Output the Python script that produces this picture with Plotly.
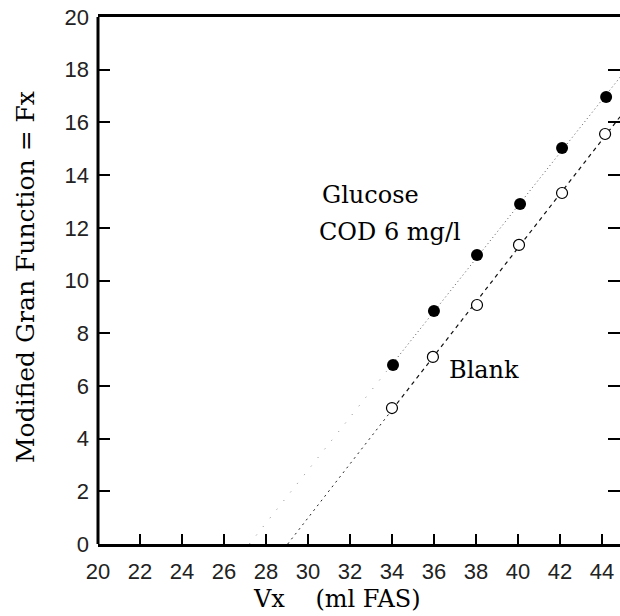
import numpy as np
import plotly.graph_objects as go

# ---- data ----
vx_glucose = [34.05, 36.0, 38.05, 40.1, 42.1, 44.2]
fx_glucose = [6.79, 8.84, 10.97, 12.9, 15.03, 16.96]
vx_blank = [34.0, 35.95, 38.05, 40.05, 42.1, 44.15]
fx_blank = [5.16, 7.10, 9.07, 11.35, 13.32, 15.56]

x_ticks = list(range(20, 45, 2))
y_ticks = list(range(0, 21, 2))

X_MAX = 44.86

# regression lines from the data
def fit_segments(xs, ys):
    m, b = np.polyfit(xs, ys, 1)
    x0 = -b / m  # x-intercept
    xa = min(xs)
    low = ([x0, xa], [0.0, m * xa + b])
    high = ([xa, X_MAX], [m * xa + b, m * X_MAX + b])
    return low, high

g_low, g_high = fit_segments(vx_glucose, fx_glucose)
b_low, b_high = fit_segments(vx_blank, fx_blank)

fig = go.Figure()

# Glucose line (sparse dotted)
fig.add_trace(go.Scatter(x=g_low[0], y=g_low[1], mode="lines",
                         line=dict(color="#888", width=1, dash="1px,10px"),
                         hoverinfo="skip", showlegend=False))
fig.add_trace(go.Scatter(x=g_high[0], y=g_high[1], mode="lines",
                         line=dict(color="#555", width=1, dash="1px,3px"),
                         hoverinfo="skip", showlegend=False))
# Blank line
fig.add_trace(go.Scatter(x=b_low[0], y=b_low[1], mode="lines",
                         line=dict(color="#222", width=1, dash="2px,4px"),
                         hoverinfo="skip", showlegend=False))
fig.add_trace(go.Scatter(x=b_high[0], y=b_high[1], mode="lines",
                         line=dict(color="#111", width=1.2, dash="4px,4px"),
                         hoverinfo="skip", showlegend=False))

# points
fig.add_trace(go.Scatter(x=vx_glucose, y=fx_glucose, mode="markers", name="Glucose",
                         marker=dict(symbol="circle", size=12, color="black"),
                         showlegend=False))
fig.add_trace(go.Scatter(x=vx_blank, y=fx_blank, mode="markers", name="Blank",
                         marker=dict(symbol="circle", size=11, color="white",
                                     line=dict(color="black", width=1.2)),
                         showlegend=False))

serif = "DejaVu Serif"
ann_font = dict(family=serif, size=24, color="black")

fig.add_annotation(x=30.57, y=13.24, text="Glucose", showarrow=False,
                   xanchor="left", yanchor="middle", font=ann_font)
fig.add_annotation(x=30.43, y=11.84, text="COD 6 mg/l", showarrow=False,
                   xanchor="left", yanchor="middle", font=ann_font)
fig.add_annotation(x=36.62, y=6.6, text="Blank", showarrow=False,
                   xanchor="left", yanchor="middle", font=ann_font)

L, R, T, B = 98, 0, 17, 72
W, H = 620, 616
pw = W - L - R
ph = H - T - B

# x-axis title (centred at pixel 337, 599)
fig.add_annotation(x=(337 - L) / pw, y=(H - B - 599) / ph, xref="paper", yref="paper",
                   text="Vx    (ml FAS)", showarrow=False, font=ann_font,
                   xanchor="center", yanchor="middle")
# y-axis title (centred at pixel 25, 277)
fig.add_annotation(x=(25 - L) / pw, y=(H - B - 277) / ph, xref="paper", yref="paper",
                   text="Modified Gran Function = Fx", showarrow=False, textangle=-90,
                   font=dict(family=serif, size=25, color="black"),
                   xanchor="center", yanchor="middle")

# left axis line
fig.add_shape(type="line", xref="paper", yref="paper", x0=0, x1=0, y0=0, y1=1,
              line=dict(color="black", width=3))

tick_font = dict(family="Liberation Sans", size=22, color="#222")

fig.update_xaxes(range=[20, X_MAX], tickvals=x_ticks, ticktext=[str(v) for v in x_ticks],
                 showline=True, linecolor="black", linewidth=3, mirror=True,
                 ticks="inside", ticklen=10, tickwidth=1.5, tickcolor="black",
                 showgrid=False, zeroline=False, tickfont=tick_font,
                 ticklabelstandoff=6, automargin=False)
fig.update_yaxes(range=[0, 20], tickvals=y_ticks, ticktext=[str(v) for v in y_ticks],
                 showline=False, mirror="ticks",
                 ticks="inside", ticklen=12, tickwidth=1.5, tickcolor="black",
                 showgrid=False, zeroline=False, tickfont=tick_font,
                 ticklabelstandoff=8, automargin=False)

fig.update_layout(width=W, height=H,
                  margin=dict(l=L, r=R, t=T, b=B, autoexpand=False),
                  plot_bgcolor="white", paper_bgcolor="white",
                  showlegend=False)

fig.write_html("out.html", config={"displayModeBar": False},
               post_script="document.body.style.margin='0';document.body.style.overflow='hidden';")
